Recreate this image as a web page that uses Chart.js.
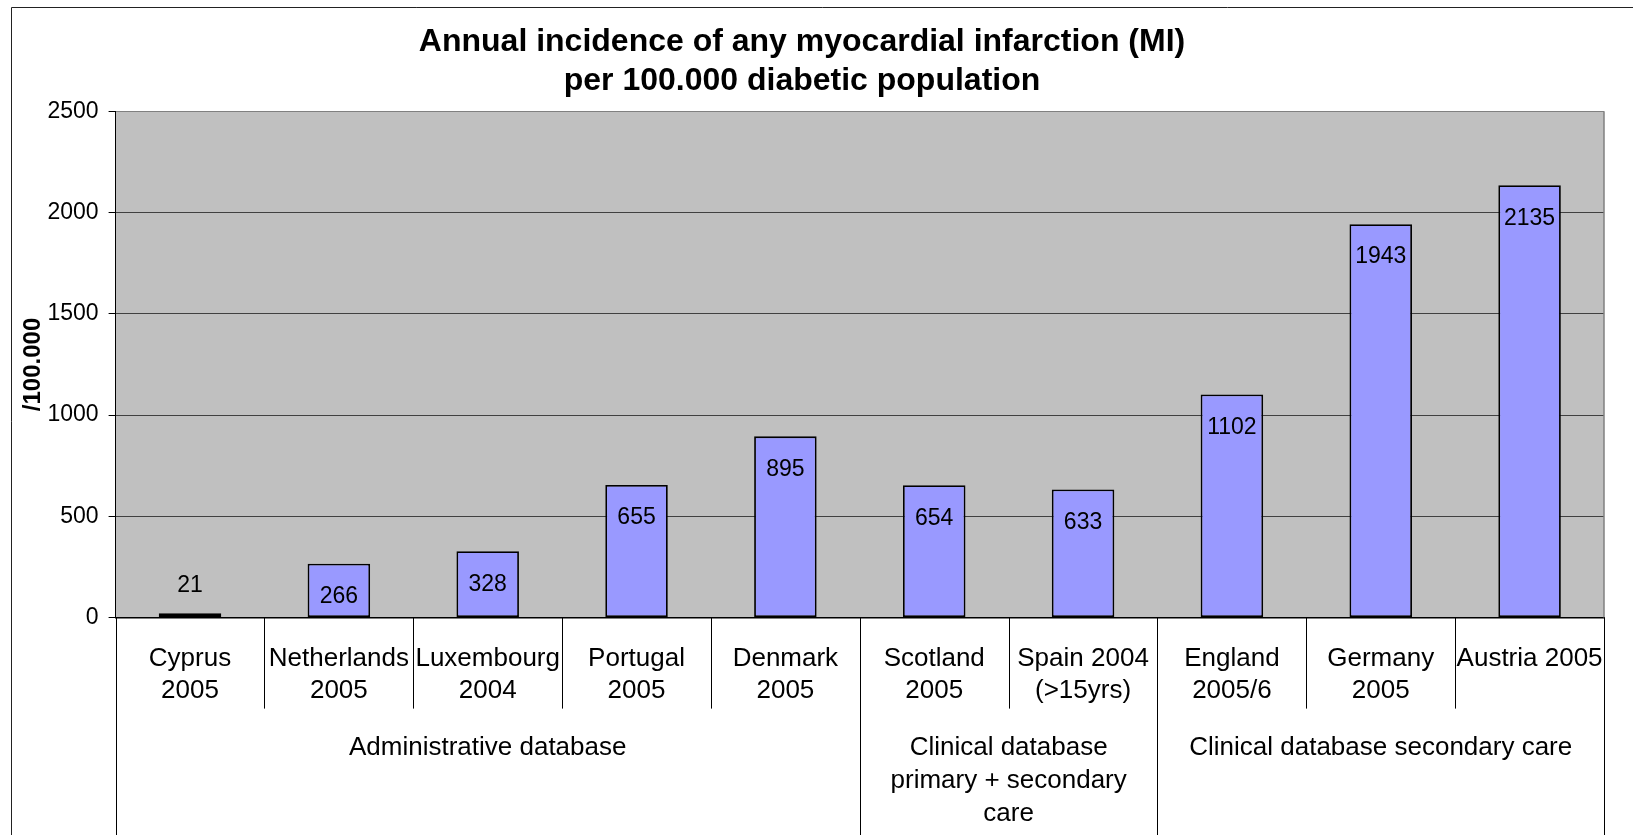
<!DOCTYPE html>
<html>
<head>
<meta charset="utf-8">
<script src="https://cdn.jsdelivr.net/npm/chart.js@4.4.0/dist/chart.umd.min.js"></script>
<style>
  body { margin: 0; background: #fff; }
  canvas { display: block; }
</style>
</head>
<body>
<canvas id="chart" width="1633" height="835"></canvas>
<script>
// Data
const categories = [
    ['Cyprus', '2005'], ['Netherlands', '2005'], ['Luxembourg', '2004'],
    ['Portugal', '2005'], ['Denmark', '2005'], ['Scotland', '2005'],
    ['Spain 2004', '(>15yrs)'], ['England', '2005/6'], ['Germany', '2005'],
    ['Austria 2005']
];
const incidence = [21, 266, 328, 655, 895, 654, 633, 1102, 1943, 2135];
const groupNames = [
    ['Administrative database'],
    ['Clinical database', 'primary + secondary', 'care'],
    ['Clinical database secondary care']
];
const groupSizes = [5, 2, 3];
const yTicks = [0, 500, 1000, 1500, 2000, 2500];

const FONT = "'Liberation Sans', Arial, sans-serif";
Chart.defaults.color = '#000';
Chart.defaults.font.family = FONT;

// background, borders, data labels, group axis
const excelLook = {
    id: 'excelLook',
    beforeDraw: function (chart) {
        const ctx = chart.ctx;
        const a = chart.chartArea;
        ctx.save();
        ctx.strokeStyle = '#222';
        ctx.lineWidth = 1;
        ctx.beginPath();
        ctx.moveTo(11.5, chart.height);
        ctx.lineTo(11.5, 7.5);
        ctx.lineTo(chart.width, 7.5);
        ctx.stroke();
        ctx.fillStyle = '#c0c0c0';
        ctx.fillRect(a.left, a.top, a.right - a.left, a.bottom - a.top);
        ctx.restore();
    },
    afterDraw: function (chart) {
        const ctx = chart.ctx;
        const a = chart.chartArea;
        const x = chart.scales.x;
        const step = x.getPixelForValue(1) - x.getPixelForValue(0);
        ctx.save();

        // right border of plot
        ctx.strokeStyle = '#808080';
        ctx.lineWidth = 1.5;
        ctx.beginPath();
        ctx.moveTo(a.right, a.top);
        ctx.lineTo(a.right, a.bottom);
        ctx.stroke();

        // category separators
        const groupEdges = [0];
        groupSizes.forEach(function (n) { groupEdges.push(groupEdges[groupEdges.length - 1] + n); });
        ctx.strokeStyle = '#000';
        ctx.lineWidth = 1;
        for (let i = 0; i <= categories.length; i++) {
            const px = Math.round(x.getPixelForValue(i) - step / 2) + 0.5;
            const long = groupEdges.indexOf(i) >= 0;
            ctx.beginPath();
            ctx.moveTo(px, a.bottom);
            ctx.lineTo(px, long ? chart.height : a.bottom + 91);
            ctx.stroke();
        }

        // group labels
        ctx.font = '26px ' + FONT;
        ctx.fillStyle = '#000';
        ctx.textAlign = 'center';
        ctx.textBaseline = 'middle';
        groupNames.forEach(function (lines, g) {
            const cx = (x.getPixelForValue(groupEdges[g]) + x.getPixelForValue(groupEdges[g + 1] - 1)) / 2;
            lines.forEach(function (t, k) {
                ctx.fillText(t, cx, a.bottom + 130 + k * 33.3);
            });
        });

        // data labels
        ctx.font = '23px ' + FONT;
        chart.getDatasetMeta(0).data.forEach(function (bar, i) {
            const h = bar.base - bar.y;
            const ly = h > 45 ? bar.y + 33 : bar.y - 28;
            ctx.fillText(String(incidence[i]), bar.x, ly);
        });
        ctx.restore();
    }
};

const chart = new Chart(document.getElementById('chart'), {
    type: 'bar',
    data: {
        labels: categories,
        datasets: [{
            data: incidence,
            backgroundColor: '#9999ff',
            borderColor: '#000',
            borderWidth: 1.8,
            borderSkipped: false,
            categoryPercentage: 1,
            barPercentage: 0.42
        }]
    },
    options: {
        responsive: false,
        animation: false,
        devicePixelRatio: 1,
        layout: { padding: { left: 0, right: 29, top: 0, bottom: 0 } },
        plugins: {
            legend: { display: false },
            tooltip: { enabled: false },
            title: {
                display: true,
                text: ['Annual incidence of any myocardial infarction (MI)', 'per 100.000 diabetic population'],
                color: '#000',
                font: { family: FONT, size: 32, weight: 'bold', lineHeight: 1.24 },
                padding: { top: 21.85, bottom: 10.15 }
            }
        },
        scales: {
            x: {
                grid: { display: false },
                border: { display: true, color: '#000', width: 1.5 },
                ticks: {
                    autoSkip: false,
                    maxRotation: 0,
                    padding: 16.5,
                    font: { size: 26, lineHeight: 1.25 }
                },
                afterFit: function (scale) { scale.height = 217.4; }
            },
            y: {
                min: 0,
                max: 2500,
                afterBuildTicks: function (scale) {
                    scale.ticks = yTicks.map(function (v) { return { value: v }; });
                },
                grid: {
                    color: function (c) { return c.tick && c.tick.value === 2500 ? '#808080' : '#404040'; },
                    tickColor: '#000',
                    tickLength: 7,
                    lineWidth: 1
                },
                border: { display: true, color: '#000', width: 1 },
                ticks: {
                    padding: 10,
                    font: { size: 23 },
                    callback: function (v) { return String(v); }
                },
                title: {
                    display: true,
                    text: '/100.000',
                    font: { size: 24, weight: 'bold', lineHeight: 1.2 },
                    padding: { top: 18.6, bottom: 0 }
                },
                afterFit: function (scale) { scale.width = 115.6; }
            }
        }
    },
    plugins: [excelLook]
});
</script>
</body>
</html>
